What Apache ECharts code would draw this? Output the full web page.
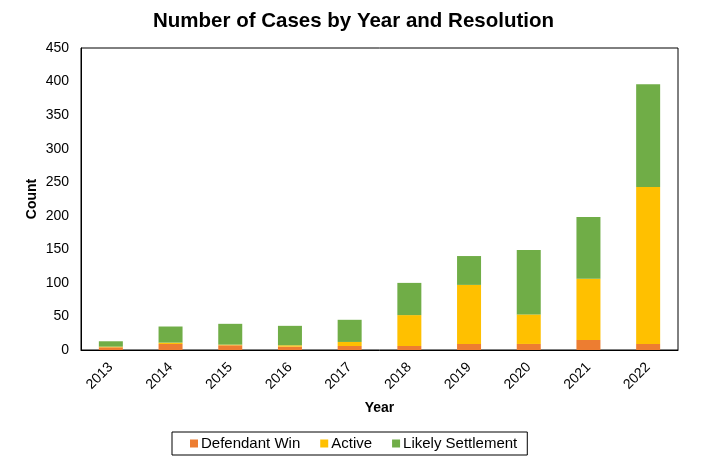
<!DOCTYPE html>
<html><head><meta charset="utf-8">
<script src="https://cdn.jsdelivr.net/npm/echarts@6/dist/echarts.min.js"></script>
<style>html,body{margin:0;padding:0;background:#fff}#c{width:709px;height:475px}</style>
</head><body><div id="c"></div>
<script>
const years = ['2013','2014','2015','2016','2017','2018','2019','2020','2021','2022'];
const defendantWin = [4, 9, 7, 5, 6, 6, 9, 9, 15, 9];
const active = [1, 2, 1, 2, 6, 46, 88, 44, 91, 234];
const likelySettlement = [8, 24, 31, 29, 33, 48, 43, 96, 92, 153];
const yTicks = {min: 0, max: 450, interval: 50};

const font = 'Liberation Sans, Arial, sans-serif';
const chart = echarts.init(document.getElementById('c'));
chart.setOption({
  animation: false,
  backgroundColor: '#fff',
  title: {text: 'Number of Cases by Year and Resolution', left: 148, top: 6,
    textStyle: {fontFamily: font, fontSize: 20.5, fontWeight: 'bold', color: '#000'}},
  grid: {left: 81, right: 31, top: 48, bottom: 125, show: true, borderColor: '#000', borderWidth: 1},
  legend: {
    left: 172, top: 432, width: 360,
    data: ['Defendant Win', 'Active', 'Likely Settlement'],
    borderColor: '#000', borderWidth: 1, padding: [4, 10, 4, 18],
    itemWidth: 8, itemHeight: 8, itemGap: 20, icon: 'rect',
    textStyle: {fontFamily: font, fontSize: 15, color: '#000', padding: [0, 0, 0, -2]}
  },
  xAxis: {
    type: 'category', data: years,
    name: 'Year', nameLocation: 'middle', nameGap: 51,
    nameTextStyle: {fontFamily: font, fontSize: 14, fontWeight: 'bold', color: '#000'},
    axisLine: {lineStyle: {color: '#000'}}, axisTick: {show: false},
    axisLabel: {rotate: 45, fontFamily: font, fontSize: 14, color: '#000', margin: 15}
  },
  yAxis: {
    type: 'value', min: yTicks.min, max: yTicks.max, interval: yTicks.interval,
    name: 'Count', nameLocation: 'middle', nameGap: 42, nameMoveOverlap: false,
    nameTextStyle: {fontFamily: font, fontSize: 14, fontWeight: 'bold', color: '#000'},
    axisLine: {show: true, lineStyle: {color: '#000'}}, axisTick: {show: false},
    splitLine: {show: false},
    axisLabel: {fontFamily: font, fontSize: 14, color: '#000', margin: 12}
  },
  series: [
    {name: 'Defendant Win', type: 'bar', stack: 't', data: defendantWin, barWidth: 24, itemStyle: {color: '#ED7D31'}},
    {name: 'Active', type: 'bar', stack: 't', data: active, barWidth: 24, itemStyle: {color: '#FFC000'}},
    {name: 'Likely Settlement', type: 'bar', stack: 't', data: likelySettlement, barWidth: 24, itemStyle: {color: '#70AD47'}}
  ]
});
</script></body></html>
